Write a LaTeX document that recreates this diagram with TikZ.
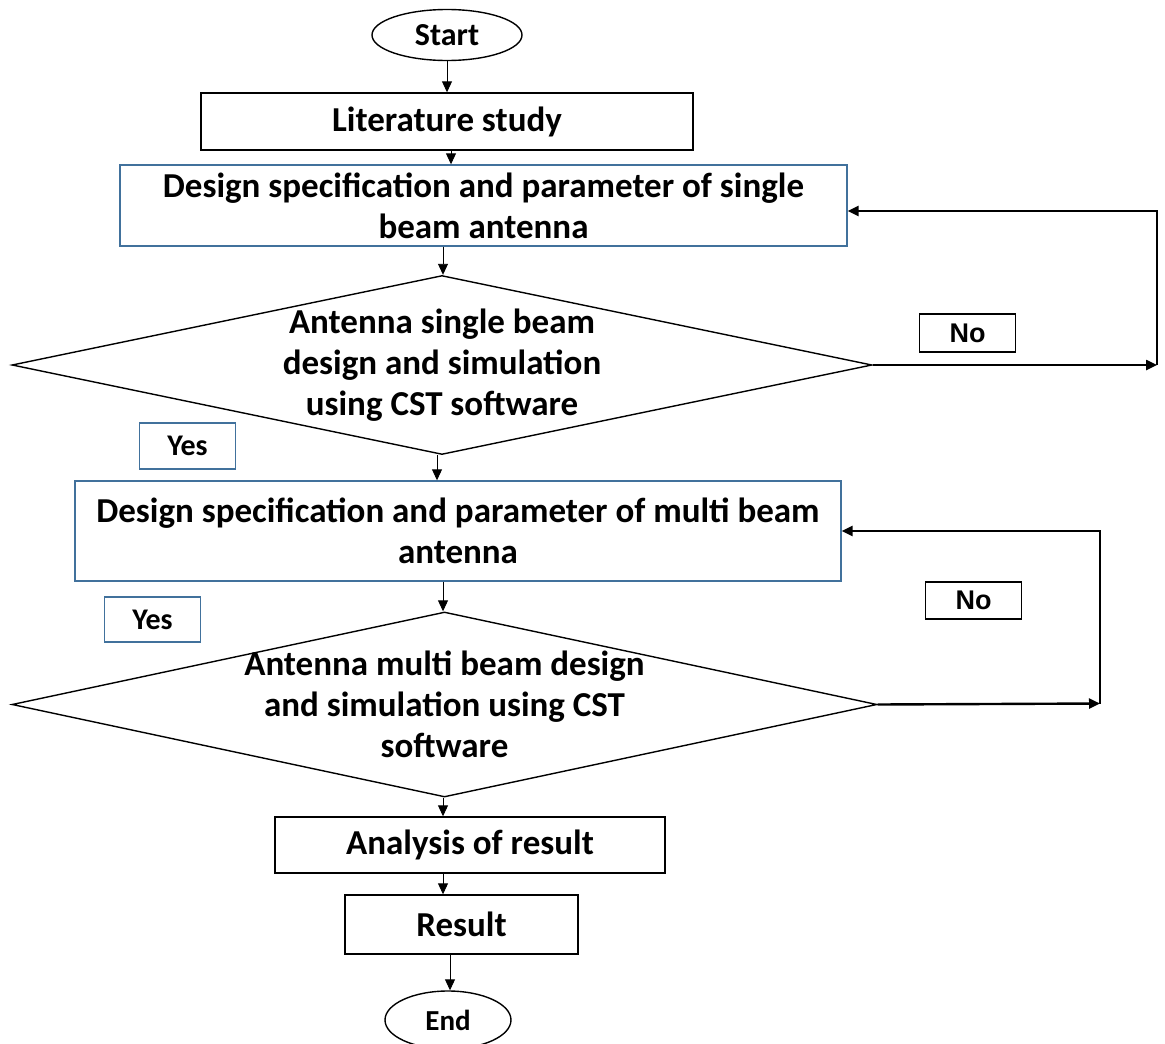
\documentclass[tikz,border=0pt]{standalone}
\usepackage{fontspec}
\setmainfont{Carlito}
\newfontfamily\arialbf{Liberation Sans}
\usetikzlibrary{arrows.meta,positioning,shapes.geometric}
\definecolor{boxblue}{RGB}{65,113,156}
\begin{document}
\begin{tikzpicture}[x=1pt,y=-1pt,>={Triangle[length=11pt,width=10pt]},
 every node/.style={font=\fontsize{35}{41}\selectfont\bfseries},
 term/.style={draw,ellipse,line width=1.4pt,inner sep=0pt},
 proc/.style={draw,line width=1.4pt,inner sep=0pt},
 bluebox/.style={draw=boxblue,line width=1.4pt,inner sep=0pt,align=center},
 dec/.style={draw,diamond,line width=1.4pt,inner sep=0pt},
 tag/.style={draw,line width=1.2pt,inner sep=0pt,minimum width=96pt,minimum height=38pt},
 small/.style={font=\fontsize{30}{36}\selectfont\bfseries},
 flow/.style={line width=0.9pt,->},
 back/.style={line width=2.4pt,->}]
\useasboundingbox (0,0) rectangle (1165,1044);
% terminals and steps
\node[term,minimum width=150pt,minimum height=51pt,font=\fontsize{32}{38}\selectfont\bfseries](start) at (447,35){Start};
\node[proc,minimum width=492pt,minimum height=57pt](lit) at (447,121.5){Literature study};
\node[bluebox,minimum width=727pt,minimum height=81pt](b1) at (483.5,205.5)
 {Design specification and parameter of single\\beam antenna};
\node[dec,minimum width=860pt,minimum height=179pt](d1) at (442,365){};
\node[align=center](d1t) at (d1){Antenna single beam\\design and simulation\\using CST software};
\node[bluebox,minimum width=766pt,minimum height=100pt](b2) at (458,531)
 {Design specification and parameter of multi beam\\antenna};
\node[dec,minimum width=865pt,minimum height=185pt](d2) at (444.5,704.5){};
\node[align=center](d2t) at (d2){Antenna multi beam design\\and simulation using CST\\software};
\node[proc,minimum width=390pt,minimum height=56pt](ana) at (470,845){Analysis of result};
\node[proc,minimum width=233pt,minimum height=59pt](res) at (461.5,924.5){Result};
\node[term,minimum width=126pt,minimum height=58pt,font=\fontsize{29}{34}\selectfont\bfseries](end) at (448,1020){End};
% yes / no tags
\node[tag](no1) at (967.5,333){\arialbf\fontsize{27}{32}\selectfont No};
\node[tag,small,draw=boxblue,minimum height=46pt](yes1) at (187.5,446){Yes};
\node[tag,small,draw=boxblue,minimum height=45pt](yes2) at (152.5,619.5){Yes};
\node[tag,minimum height=37pt](no2) at (973.5,600.5){\arialbf\fontsize{27}{32}\selectfont No};
% loop corners
\coordinate(c1) at (1157,365);
\coordinate(c1t) at (1157,211);
\coordinate(c2) at (1100,703.5);
% main flow
\draw[flow](start)--(lit);
\draw[flow](lit.south-|451,0)--(b1.north-|451,0);
\draw[flow](b1.south-|443,0)--(d1.north-|443,0);
\draw[flow](d1.south-|437,0)--(b2.north-|437,0);
\draw[flow](b2.south-|443,0)--(d2.north-|443,0);
\draw[flow](d2.south-|443,0)--(ana.north-|443,0);
\draw[flow](ana.south-|443,0)--(res.north-|443,0);
\draw[flow](res.south-|450,0)--(end.north-|450,0);
% back loops
\draw[back](d1.east)--(c1);
\draw[back](c1)--(c1t)--(c1t-|b1.east);
\draw[back](d2.east)--(c2);
\draw[back](c2)|-(b2.east);
\end{tikzpicture}
\end{document}
